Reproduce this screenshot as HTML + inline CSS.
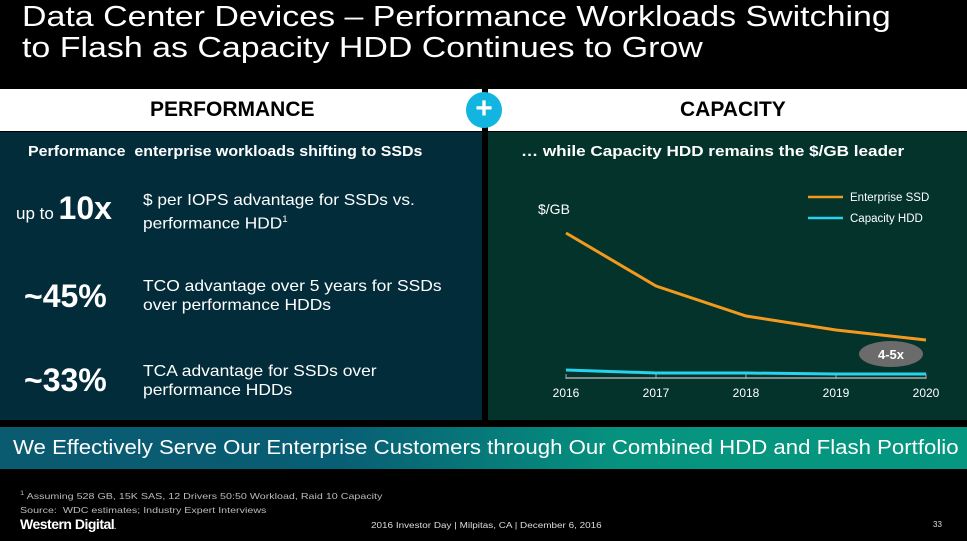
<!DOCTYPE html>
<html><head><meta charset="utf-8"><style>
body{margin:0;width:967px;height:541px;background:#000;position:relative;overflow:hidden;font-family:"Liberation Sans",sans-serif;color:#fff}
div,span,svg{position:absolute}
.t{position:absolute;white-space:nowrap;transform-origin:0 0}
</style></head><body>
<div class="t" style="left:22px;top:2px;font-size:29px;line-height:31px;color:#fff;transform:scaleX(1.17)">Data Center Devices – Performance Workloads Switching<br>to Flash as Capacity HDD Continues to Grow</div>
<div style="left:0;top:89px;width:967px;height:42px;background:#fff"></div>
<div class="t" style="left:150px;top:98px;font-size:21px;font-weight:bold;color:#000">PERFORMANCE</div>
<div class="t" style="left:680px;top:98px;font-size:21px;font-weight:bold;color:#000">CAPACITY</div>
<div style="left:0;top:132px;width:482px;height:288px;background:#032c3a"></div>
<div style="left:488px;top:132px;width:479px;height:288px;background:#03332b"></div>
<div style="left:482px;top:89px;width:6px;height:331px;background:#000"></div>
<div style="left:466px;top:92px;width:36px;height:36px;border-radius:50%;background:#12b5e0;color:#fff;font-size:30px;font-weight:bold;line-height:34px;text-align:center">+</div>
<div class="t" style="left:28px;top:144px;font-size:14.5px;font-weight:bold;transform:scaleX(1.1)">Performance &nbsp;enterprise workloads shifting to SSDs</div>
<div class="t" style="left:16px;top:190px;font-size:17px">up to <b style="font-size:32px">10x</b></div>
<div class="t" style="left:143px;top:191px;font-size:16px;line-height:19px;transform:scaleX(1.08)">$ per IOPS advantage for SSDs vs.<br>performance HDD<sup style="font-size:9px">1</sup></div>
<div class="t" style="left:24px;top:278px;font-size:32px;font-weight:bold">~45%</div>
<div class="t" style="left:143px;top:277px;font-size:16px;line-height:19px;transform:scaleX(1.09)">TCO advantage over 5 years for SSDs<br>over performance HDDs</div>
<div class="t" style="left:24px;top:362px;font-size:32px;font-weight:bold">~33%</div>
<div class="t" style="left:143px;top:362px;font-size:16px;line-height:19px;transform:scaleX(1.09)">TCA advantage for SSDs over<br>performance HDDs</div>
<div class="t" style="left:521px;top:144px;font-size:14.5px;font-weight:bold;transform:scaleX(1.18)">… while Capacity HDD remains the $/GB leader</div>
<svg id="chart" style="left:0;top:0" width="967" height="541"></svg>
<div style="left:0;top:427px;width:967px;height:42px;background:linear-gradient(90deg,#0a5a70 0%,#085e74 35%,#06947f 65%,#05977f 100%)"></div>
<div class="t" style="left:13px;top:437px;font-size:20px;transform:scaleX(1.11)">We Effectively Serve Our Enterprise Customers through Our Combined HDD and Flash Portfolio</div>
<div class="t" style="left:20px;top:487px;font-size:8.5px;color:#bbb;line-height:14px;transform:scaleX(1.26)"><sup style="font-size:6px">1</sup> Assuming 528 GB, 15K SAS, 12 Drivers 50:50 Workload, Raid 10 Capacity<br>Source:&nbsp; WDC estimates; Industry Expert Interviews</div>
<div class="t" style="left:20px;top:516px;font-size:14px;font-weight:bold;letter-spacing:-0.5px">Western Digital<span style="position:static;font-size:7px">.</span></div>
<div class="t" style="left:371px;top:521px;font-size:8px;color:#ddd;transform:scaleX(1.24)">2016 Investor Day | Milpitas, CA | December 6, 2016</div>
<div class="t" style="left:933px;top:520px;font-size:8px;color:#ddd">33</div>
<script>
const years=['2016','2017','2018','2019','2020'];
const ssd=[144,91,61,47,37];
const hdd=[7,4,4,3,3];
const svg=document.getElementById('chart');
const NS='http://www.w3.org/2000/svg';
const x=i=>566+i*90, y=v=>377-v;
function mk(t,a){const e=document.createElementNS(NS,t);for(const k in a)e.setAttribute(k,a[k]);svg.appendChild(e);return e;}
let ax=mk('line',{x1:566,y1:378,x2:926,y2:378,stroke:'#aaa','stroke-width':1.5});


years.forEach((yr,i)=>{
 let tk=mk('line',{x1:x(i),y1:374,x2:x(i),y2:379,stroke:'#aaa','stroke-width':1});
 
 
 let t=mk('text',{x:x(i),y:397,'text-anchor':'middle',fill:'#fff','font-size':12,'font-family':'Liberation Sans'});
 t.textContent=yr;
 
 
});
let p1=mk('polyline',{points:ssd.map((v,i)=>x(i)+','+y(v)).join(' '),fill:'none',stroke:'#f39a1e','stroke-width':3});


let p2=mk('polyline',{points:hdd.map((v,i)=>x(i)+','+y(v)).join(' '),fill:'none',stroke:'#27d3ee','stroke-width':3});


let yl=mk('text',{x:538,y:214,fill:'#fff','font-size':14,'font-family':'Liberation Sans'});yl.textContent='$/GB';


[['Enterprise SSD','#f39a1e',197],['Capacity HDD','#27d3ee',218]].forEach(([n,c,yy])=>{
 let l=mk('line',{x1:808,y1:yy,x2:843,y2:yy,stroke:c,'stroke-width':2.5});
 
 
 let t=mk('text',{x:850,y:yy+4,fill:'#fff','font-size':11.5,'font-family':'Liberation Sans'});t.textContent=n;
 
 
});
let el=mk('ellipse',{cx:891,cy:354,rx:32,ry:13,fill:'#6b6b6b'});


let bt=mk('text',{x:891,y:359,'text-anchor':'middle',fill:'#fff','font-size':13,'font-weight':'bold','font-family':'Liberation Sans'});bt.textContent='4-5x';


</script>
</body></html>
